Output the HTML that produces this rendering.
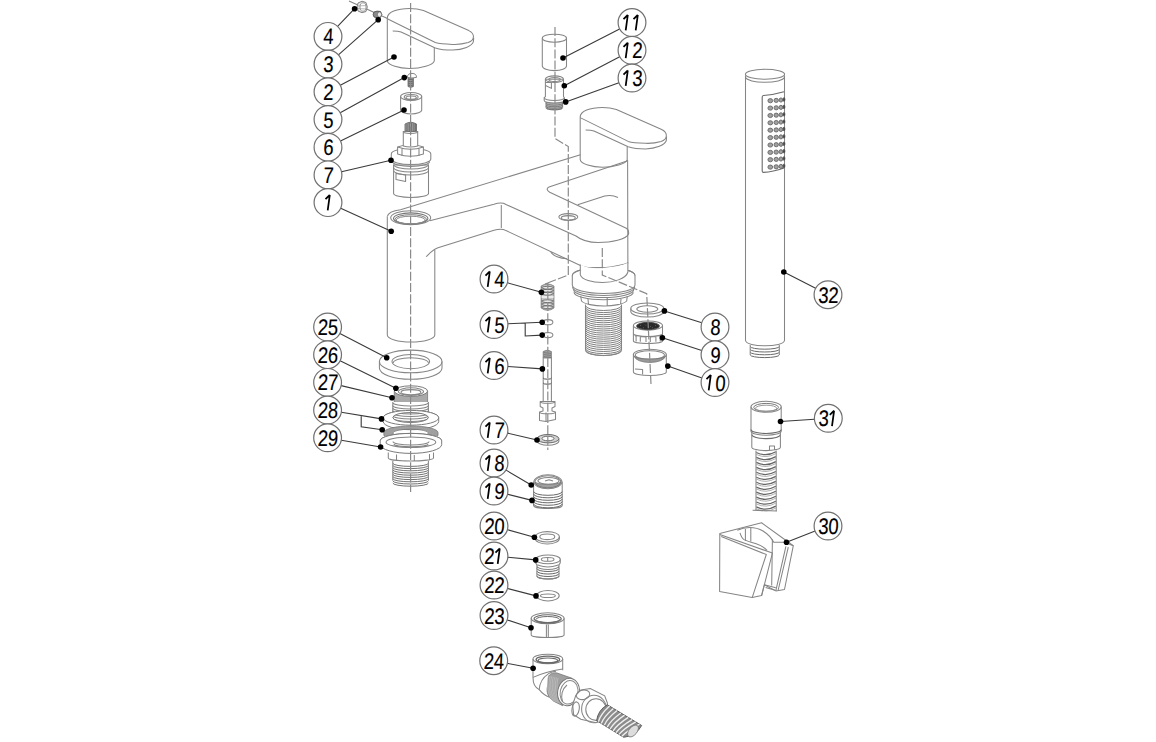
<!DOCTYPE html>
<html><head><meta charset="utf-8"><title>Exploded diagram</title>
<style>
html,body{margin:0;padding:0;background:#fff;overflow:hidden;}
svg{display:block;}
.p{fill:none;stroke:#858585;stroke-width:1.05;stroke-linejoin:round;}
</style></head><body>
<svg width="1156" height="742" viewBox="0 0 1156 742">
<rect width="1156" height="742" fill="#fff"/>
<path class="p" d="M349,1 L387.5,18.5"/><path d="M358,3 L362,1.2 L366,2.5 L367.3,7 L366,11.5 L362,12.7 L358,11 L357,7 Z" fill="#e4e4e4" stroke="#777" stroke-width="0.9"/><ellipse cx="363" cy="7" rx="3" ry="4.2" fill="#fff" stroke="#888" stroke-width="0.8"/><path d="M357.5,6 L366.8,5.5 M357.5,8.5 L366.8,9" stroke="#999" stroke-width="0.7" fill="none"/><path d="M374,12 Q377,10.5 380.5,11.5 L381.9,14.5 L380.5,17.4 Q377,18.3 374,17 L373.1,14.5 Z" fill="#8a8a8a" stroke="#555" stroke-width="0.9"/><ellipse cx="379.5" cy="14.5" rx="2" ry="2.6" fill="#eee" stroke="#666" stroke-width="0.6"/><g transform="translate(-192.9,-98.9)"><path class="p" d="M580.2,117 C580.2,111 590,107.4 602.4,107.4 C608,107.4 612,108 616.4,109.5 L661.7,129.5 C668,132.5 668,139 661,141.5 C656,143 650,143.5 645.5,143.3 C638,143 632,142.5 628.2,141.4 L580.2,117.6"/><path class="p" d="M666.6,136.5 L666.3,140.5 C665,145 656,148.7 645.5,149 C638,149 632,148 628.2,146.8"/><path class="p" d="M585.6,130 C589,130 592,130.3 594,131 L628.2,146.8"/><path class="p" d="M580.2,117 L580.2,159.7 C581,164 592,167.3 602.4,167.3 C614,167.3 626,164 627.2,159.7 L627.2,146.8"/></g><path d="M408,77 L408,86.5 Q410.7,88.2 413.4,86.5 L413.4,77 Z" fill="#9a9a9a" stroke="#666" stroke-width="0.8"/><path d="M408.2,79 L413.2,80 M408.2,81 L413.2,82 M408.2,83 L413.2,84 M408.2,85 L413.2,86" stroke="#555" stroke-width="0.8" fill="none"/><path d="M407.4,77.4 Q407.4,73.4 412,73.4 Q416.5,73.4 416.5,77.4 Q412,78.6 407.4,77.4 Z" fill="#fff" stroke="#777" stroke-width="0.9"/><path class="p" d="M400.6,96.5 L400.6,110 A10.55,4 0 0 0 421.7,110 L421.7,96.5"/><ellipse class="p" cx="411.15" cy="96.5" rx="10.55" ry="4"/><ellipse class="p" cx="411.15" cy="97" rx="7" ry="2.6"/><ellipse class="p" cx="411.15" cy="97.6" rx="5.2" ry="1.7"/><path d="M393.6,165 L393.6,193.5 A17.45,4 0 0 0 428.5,193.5 L428.5,165 Z" fill="#fff" stroke="#858585" stroke-width="1.05"/><path class="p" d="M393.6,164.5 A17.45,4.5 0 0 0 428.5,164.5 M393.6,167.5 A17.45,4.5 0 0 0 428.5,167.5 M393.6,170.5 A17.45,4.5 0 0 0 428.5,170.5"/><path d="M391.3,154 A19.75,5.5 0 0 1 430.8,154 L430.8,159 A19.75,5.5 0 0 1 391.3,159 Z" fill="#fff" stroke="#858585" stroke-width="1.05"/><path class="p" d="M392.5,161.5 A18.5,5 0 0 0 429.6,161.5"/><path d="M397.6,147 L397.6,154 Q410.5,158.5 423.4,154 L423.4,147 Q410.5,142 397.6,147 Z" fill="#fff" stroke="#858585" stroke-width="1.05"/><path class="p" d="M402,148.5 L402,156 M410.5,149.5 L410.5,157 M419,148.5 L419,156 M397.6,147 Q410.5,151.5 423.4,147"/><path d="M403.3,131.5 L403.3,146 Q410.5,148 417.7,146 L417.7,131.5 Z" fill="#fff" stroke="#858585" stroke-width="1.05"/><path class="p" d="M403.3,132.5 Q410.5,134.5 417.7,132.5"/><path d="M405,131 L405,124 Q410.75,120.5 416.5,124 L416.5,131 Q410.75,132.5 405,131 Z" fill="#9a9a9a" stroke="#707070" stroke-width="0.9"/><path stroke="#5a5a5a" stroke-width="0.7" fill="none" d="M407,123.5 L407,131 M409.3,122.5 L409.3,131.5 M411.6,122.5 L411.6,131.5 M413.9,123 L413.9,131.5 M415.6,123.5 L415.6,131"/><path class="p" d="M396,173.4 L405.6,175 L405.6,181.5 L396,179.5 Z"/><path class="p" d="M387.3,216.5 C388,213 394,210.5 400.5,209.7 L580.5,154.8"/><path class="p" d="M387.3,216.5 L387.3,335 A23.75,7 0 0 0 434.8,335 L434.8,250"/><ellipse class="p" cx="410.7" cy="217.8" rx="20" ry="7"/><path d="M393.5,218.5 A17.2,5.6 0 1 1 427.9,218.5 A17.2,5.6 0 1 1 393.5,218.5 Z" fill="none" stroke="#777" stroke-width="1.1"/><ellipse cx="410.7" cy="219.3" rx="15.8" ry="4.6" fill="none" stroke="#7a7a7a" stroke-width="1"/><ellipse cx="410.7" cy="220" rx="14.5" ry="3.8" fill="none" stroke="#8a8a8a" stroke-width="1"/><path class="p" d="M429.8,220.8 L494,204.3 C499,202.6 503,202.7 506,204.5 L576,236 C581,240 588,242.5 598,242.6 C612,242.5 626,239.5 628.6,234 C628.9,231 627.8,229 626.3,228.2 L549.7,192.3 Q545,189 549,187 L627,161"/><path class="p" d="M501.3,205 L501.3,228"/><path class="p" d="M426.1,256.7 C430,253 433,249.5 438,247.8 L494,230.3 C499,228.8 503,228.9 506,230.6 L580.4,265.5 C586,268 594,268.5 600.6,268.2 C612,267 622,266 628.3,262.8"/><path class="p" d="M550.8,252 C553,256 560,258.5 567,258.7"/><path class="p" d="M577.7,204.8 L604.7,196 C610,195 615,196 618,197.4"/><ellipse class="p" cx="568.3" cy="217" rx="9.5" ry="3.4"/><ellipse class="p" cx="568.3" cy="217.8" rx="7" ry="2.2"/><path class="p" d="M580.2,117 C580.2,111 590,107.4 602.4,107.4 C608,107.4 612,108 616.4,109.5 L661.7,129.5 C668,132.5 668,139 661,141.5 C656,143 650,143.5 645.5,143.3 C638,143 632,142.5 628.2,141.4 L580.2,117.6"/><path class="p" d="M666.6,136.5 L666.3,140.5 C665,145 656,148.7 645.5,149 C638,149 632,148 628.2,146.8"/><path class="p" d="M585.6,130 C589,130 592,130.3 594,131 L628.2,146.8"/><path class="p" d="M580.2,117 L580.2,159.7 C581,164 592,167.3 602.4,167.3 C614,167.3 626,164 627.2,159.7 L627.2,146.8"/><path d="M572.3,275.6 L572.3,285 A31.35,8.5 0 0 0 635,285 L635,275.6 A31.35,8.2 0 0 0 572.3,275.6 Z" fill="#fff" stroke="#858585" stroke-width="1.05"/><path d="M572.3,275.6 A31.35,8.2 0 0 1 635,275.6" fill="none" stroke="#858585" stroke-width="1.05"/><path class="p" d="M572.6,287 A31,8.5 0 0 0 634.7,287 M573.5,289.5 A30,8 0 0 0 633.8,289.5 M574,292.2 A29.6,7.5 0 0 0 633.3,292.2"/><path d="M580.3,264.5 L580.3,274.9 C582,280 592,282.5 602.5,282.5 C613,282.5 626,279 627.9,272 L627.9,262.8 C622,266 612,267 600.6,268.2 C594,268.5 586,268 580.3,264.5 Z" fill="#fff" stroke="none"/><path class="p" d="M627.6,160 L627.9,272 C626,279 613,282.5 602.5,282.5 C592,282.5 582,280 580.3,274.9 L580.3,264.5"/><path class="p" d="M580.7,296 L581.5,301 C584,304 594,306 604,306 C614,306 624,304 626.7,301 L627.3,296 M607.2,297.5 L607.2,306 M588,299 L588.5,304.5 M621,299 L620.5,304.5"/><path stroke="#707070" stroke-width="0.9" fill="none" d="M585.5,305.5 A18,5 0 0 0 621.5,305.5 M585.5,307.6 A18,5 0 0 0 621.5,307.6 M585.5,309.6 A18,5 0 0 0 621.5,309.6 M585.5,311.7 A18,5 0 0 0 621.5,311.7 M585.5,313.7 A18,5 0 0 0 621.5,313.7 M585.5,315.8 A18,5 0 0 0 621.5,315.8 M585.5,317.8 A18,5 0 0 0 621.5,317.8 M585.5,319.9 A18,5 0 0 0 621.5,319.9 M585.5,321.9 A18,5 0 0 0 621.5,321.9 M585.5,324.0 A18,5 0 0 0 621.5,324.0 M585.5,326.0 A18,5 0 0 0 621.5,326.0 M585.5,328.1 A18,5 0 0 0 621.5,328.1 M585.5,330.1 A18,5 0 0 0 621.5,330.1 M585.5,332.2 A18,5 0 0 0 621.5,332.2 M585.5,334.2 A18,5 0 0 0 621.5,334.2 M585.5,336.3 A18,5 0 0 0 621.5,336.3 M585.5,338.3 A18,5 0 0 0 621.5,338.3 M585.5,340.4 A18,5 0 0 0 621.5,340.4 M585.5,342.4 A18,5 0 0 0 621.5,342.4 M585.5,344.5 A18,5 0 0 0 621.5,344.5 M585.5,346.5 A18,5 0 0 0 621.5,346.5 M585.5,348.6 A18,5 0 0 0 621.5,348.6 M585.5,350.6 A18,5 0 0 0 621.5,350.6"/><path class="p" d="M585.5,304.5 L585.5,349.5 A18,6 0 0 0 621.5,349.5 L621.5,304.5"/><path class="p" d="M542.3,38.2 L542.3,66 A12.1,4.6 0 0 0 566.5,66 L566.5,38.2"/><ellipse class="p" cx="554.4" cy="38.2" rx="12.1" ry="4"/><path d="M546,102 L546,107.5 A8.3,2.2 0 0 0 562.6,107.5 L562.6,102 Z" fill="#b8b8b8" stroke="#777" stroke-width="0.9"/><path stroke="#6a6a6a" stroke-width="0.8" fill="none" d="M546,103.3 A8.3,1.8 0 0 0 562.6,103.3 M546,104.9 A8.3,1.8 0 0 0 562.6,104.9 M546,106.5 A8.3,1.8 0 0 0 562.6,106.5 M546,108.1 A8.3,1.8 0 0 0 562.6,108.1"/><path d="M545.4,79.2 L545.4,96.5 L544.2,97.8 L544.2,100.5 A10.1,2.6 0 0 0 564.4,100.5 L564.4,97.8 L563.5,96.5 L563.5,79.2 Z" fill="#fff" stroke="#858585" stroke-width="1.05"/><path class="p" d="M544.2,97.8 A10.1,2.6 0 0 0 564.4,97.8"/><ellipse class="p" cx="554.45" cy="79.2" rx="9.05" ry="3.3"/><ellipse class="p" cx="554.6" cy="79.6" rx="5.8" ry="2"/><path class="p" d="M545.6,82.5 L551.4,82.5 L551.4,88.4 L545.6,85.5"/><path class="p" d="M630.8,308.5 L630.8,311.5 A16.5,5.5 0 0 0 663.8,311.5 L663.8,308.5"/><ellipse class="p" cx="647.3" cy="308.5" rx="16.5" ry="5.5"/><ellipse class="p" cx="647.3" cy="309" rx="10.5" ry="3.3"/><path class="p" d="M633.4,326 L633.4,341 A14.55,2.5 0 0 0 662.5,341 L662.5,326"/><ellipse class="p" cx="647.95" cy="325.5" rx="14.55" ry="4.6"/><ellipse cx="648" cy="326" rx="11.5" ry="3.7" fill="#2a2a2a" stroke="#444" stroke-width="0.8"/><path stroke="#777" stroke-width="0.6" fill="none" d="M640,325 L641,326 M645,324.5 L646,325.5 M650,326 L651,327 M655,325 L656,326 M643,327.5 L644,328 M652,327.5 L653,328"/><path class="p" d="M633.4,333.4 A14.55,3 0 0 0 662.5,333.4 M635,336 L636.1,336 L636.1,341.5 M640.3,341.8 L640.3,336.5 L646,337 L646,342 M650.3,342 L650.3,337 L655.9,336.5 L655.9,341.8 M660.2,341.5 L660.2,336 L661.5,336"/><path class="p" d="M633.4,354.6 L633.4,372 A16.45,3.5 0 0 0 666.3,372 L666.3,354.6"/><ellipse class="p" cx="649.85" cy="354.6" rx="16.45" ry="5.4"/><ellipse class="p" cx="649.85" cy="355" rx="14.6" ry="4.3"/><path d="M634.5,356.5 A15.4,2.8 0 0 0 665.2,356.5 A15.4,6.5 0 0 1 634.5,356.5 Z" fill="#999" stroke="#777" stroke-width="0.8"/><path class="p" d="M635,369 L642.6,369.5 L642.6,374.6"/><path d="M541.2,286 Q547.5,282 553.9,286 L553.9,308 Q547.5,312.5 541.2,308 Z" fill="#c4c4c4" stroke="#777" stroke-width="0.9"/><path stroke="#6a6a6a" stroke-width="0.9" fill="#e8e8e8" d="M541.5,287.5 C544,289.7 551,289.7 553.6,287.5 C551,285.9 544,285.9 541.5,287.5 M541.5,290.5 C544,292.7 551,292.7 553.6,290.5 C551,288.9 544,288.9 541.5,290.5 M541.5,293.5 C544,295.7 551,295.7 553.6,293.5 C551,291.9 544,291.9 541.5,293.5 M541.5,301 C544,303.2 551,303.2 553.6,301 C551,299.4 544,299.4 541.5,301 M541.5,304 C544,306.2 551,306.2 553.6,304 C551,302.4 544,302.4 541.5,304 M541.5,307 C544,309.2 551,309.2 553.6,307 C551,305.4 544,305.4 541.5,307"/><path stroke="#f4f4f4" stroke-width="1.6" fill="none" d="M541.5,297 L553.6,297"/><ellipse class="p" cx="548" cy="322.2" rx="4.9" ry="2.6"/><ellipse class="p" cx="548" cy="335.1" rx="4.9" ry="2.6"/><path d="M543.2,358 L543.2,351.5 Q547.3,348.8 551.4,351.5 L551.4,358 Z" fill="#a0a0a0" stroke="#777" stroke-width="0.8"/><path stroke="#666" stroke-width="0.6" fill="none" d="M543.5,352.5 L551,353.5 M543.5,354.5 L551,355.5 M543.5,356.5 L551,357.5"/><path class="p" d="M543.2,357.8 L543.2,401 M551.4,357.8 L551.4,401"/><path stroke="#555" stroke-width="1" fill="none" d="M543.2,378 A4.1,1.2 0 0 0 551.4,378 M543.2,383 A4.1,1.2 0 0 0 551.4,383"/><path class="p" d="M540.2,401.5 L540.2,406.5 L543,408 L543,411 L539.5,412 L539.5,420.5 L546,421.5 L555.5,419.5 L555.5,412 L552,411 L552,408 L555,406.5 L555,401.5 Z M540.2,401.5 A7.4,1.8 0 0 0 555,401.5 M539.5,412 A8,1.8 0 0 0 555.5,412 M546,412.5 L546,421.5"/><path class="p" d="M537.1,438.7 L537.1,441 A10.9,4.2 0 0 0 558.9,441 L558.9,438.7"/><path d="M537.1,438.7 A10.9,4.2 0 0 1 558.9,438.7 A10.9,4.2 0 0 1 537.1,438.7 Z M542,438.5 A6,2.3 0 0 0 554,438.5 A6,2.3 0 0 0 542,438.5 Z" fill="#cfcfcf" fill-rule="evenodd" stroke="#6a6a6a" stroke-width="1"/><path class="p" d="M533.6,481.8 L533.6,505.5 A14.3,3 0 0 0 562.2,505.5 L562.2,481.8"/><path stroke="#6a6a6a" stroke-width="1" fill="none" d="M533.6,491.5 A14.3,3.8 0 0 0 562.2,491.5 M533.6,494 A14.3,3.8 0 0 0 562.2,494 M533.6,496.5 A14.3,3.8 0 0 0 562.2,496.5 M533.6,499 A14.3,3.8 0 0 0 562.2,499 M533.6,501.5 A14.3,3.8 0 0 0 562.2,501.5 M533.6,504 A14.3,3.8 0 0 0 562.2,504"/><ellipse class="p" cx="547.9" cy="481.8" rx="14" ry="7"/><ellipse class="p" cx="547.9" cy="481.8" rx="12.9" ry="6"/><path d="M535,481.8 A12.9,6 0 0 0 560.8,481.8 A12.9,2.6 0 0 1 535,481.8 Z" fill="#a0a0a0" stroke="#777" stroke-width="0.9"/><ellipse class="p" cx="548.5" cy="480.8" rx="10.6" ry="3.4"/><path class="p" d="M545,481 L549,479.8 L553,481"/><path class="p" d="M535.2,536.8 L535.2,538.5 A12.1,5.5 0 0 0 559.4,538.5 L559.4,536.8"/><ellipse class="p" cx="547.3" cy="536.8" rx="12.1" ry="5.2"/><ellipse class="p" cx="547.3" cy="536.8" rx="7.5" ry="2.8"/><path stroke="#666" stroke-width="1" fill="none" d="M536.9,568.5 A11.05,3 0 0 0 559,568.5 M536.9,571 A11.05,3 0 0 0 559,571 M536.9,573.5 A11.05,3 0 0 0 559,573.5 M536.9,576 A11.05,3 0 0 0 559,576"/><path class="p" d="M535.6,559.4 L535.6,562.5 L536.9,565 L536.9,576 A11.05,3 0 0 0 559,576 L559,565 L560.3,562.5 L560.3,559.4 M535.6,562.5 A12.35,4.4 0 0 0 560.3,562.5 M536.9,566 A11.05,3.5 0 0 0 559,566"/><ellipse class="p" cx="547.95" cy="559.4" rx="12.35" ry="4.4"/><ellipse class="p" cx="547.65" cy="559.4" rx="6.35" ry="1.9"/><path class="p" d="M547.7,557.6 L547.7,561.2"/><ellipse class="p" cx="547.9" cy="595.7" rx="11.3" ry="5.2"/><ellipse class="p" cx="547.9" cy="595.7" rx="7.5" ry="1.8"/><path class="p" d="M531.2,618.3 L531.2,635 A16.45,2.6 0 0 0 564.1,635 L564.1,618.3"/><ellipse class="p" cx="547.65" cy="618.3" rx="16.45" ry="5.5"/><ellipse cx="547.65" cy="618.8" rx="13.6" ry="4" fill="none" stroke="#666" stroke-width="1.1"/><ellipse cx="547.65" cy="619.5" rx="11.8" ry="3" fill="none" stroke="#6a6a6a" stroke-width="1"/><path d="M537,621 A10.6,2.6 0 0 0 558.3,621" fill="none" stroke="#777" stroke-width="1"/><path class="p" d="M546.4,624.5 L546.4,637.5 M548.3,624.5 L548.3,637.5"/><path d="M533,659 L533,677.4 C533,684 536,688 539.2,689.6 C542,693 546,696 549.5,697.2 L556,701 L575,683 L562.7,670.3 L562.7,659 Z" fill="#fff" stroke="none"/><ellipse class="p" cx="547.85" cy="659" rx="14.85" ry="4.8"/><ellipse cx="547.85" cy="659.6" rx="11.8" ry="3.4" fill="none" stroke="#666" stroke-width="1.3"/><ellipse cx="547.85" cy="660.4" rx="9.8" ry="2.4" fill="none" stroke="#6a6a6a" stroke-width="1.1"/><path class="p" d="M533,659 L533,677.4 C533,684 536,688 539.2,689.6 C542,693 546,696 549.5,697.2 M562.7,659 L562.7,670.3"/><path class="p" d="M533,677.4 C542,673 552,670.5 562.7,668.9"/><path class="p" d="M539.2,689.6 C539.5,684 542,678 548.6,673.6 C551,672 553,671.5 556,671.2"/><path d="M548.6,676 C551,673 554,672.5 557,673 L572.2,678.3 L562.7,705.7 L553.3,701 C548,697 546,692 547.6,686 Z" fill="#a0a0a0" stroke="#777" stroke-width="0.8"/><path stroke="#c8c8c8" stroke-width="0.6" fill="none" d="M548.5,675.5 C546.0,684.0 548.0,696.0 553.0,701.0 M550.1,675.9 C547.6,684.4 549.6,696.4 554.6,701.6 M551.7,676.3 C549.2,684.8 551.2,696.8 556.2,702.2 M553.3,676.7 C550.8,685.2 552.8,697.2 557.8,702.8 M554.9,677.1 C552.4,685.6 554.4,697.6 559.4,703.4 M556.5,677.5 C554.0,686.0 556.0,698.0 561.0,704.0 M558.1,677.9 C555.6,686.4 557.6,698.4 562.6,704.6"/><ellipse cx="568.5" cy="692" rx="10.8" ry="13.9" transform="rotate(12 568.5 692)" fill="#fff" stroke="#777" stroke-width="1"/><ellipse cx="569" cy="692.3" rx="8.8" ry="11.9" transform="rotate(12 569 692.3)" fill="none" stroke="#888" stroke-width="1"/><path class="p" d="M567,685 C562,689 560.5,696 562.5,701.5"/><path d="M575.8,695.3 L580.8,689.9 L590.3,688.5 L604.7,695.8 L607.4,703 L606.5,716 L596,722.8 L580.8,719.2 L573.6,714.7 L572.7,704.8 Z" fill="#fff" stroke="#858585" stroke-width="1.05"/><ellipse class="p" cx="583" cy="694.8" rx="6.8" ry="4.7" transform="rotate(-12 583 694.8)"/><ellipse class="p" cx="575.6" cy="709" rx="3.6" ry="7.2" transform="rotate(10 575.6 709)"/><ellipse class="p" cx="594" cy="709" rx="12.4" ry="13.8"/><ellipse class="p" cx="596" cy="709.6" rx="10.2" ry="10.8"/><path d="M607.4,704.8 L641.7,725.5 Q636,736 623.7,737.3 L596.6,720.6 Q598,710 607.4,704.8 Z" fill="#8c8c8c" stroke="#555" stroke-width="0.9"/><path stroke="#f0f0f0" stroke-width="1.3" fill="none" d="M609.6,706.1 Q600.5,714.4 598.4,721.7 M613.4,708.4 Q603.8,716.5 601.3,723.5 M617.1,710.6 Q607.2,718.5 604.3,725.3 M620.8,712.9 Q610.5,720.5 607.2,727.1 M624.5,715.1 Q613.8,722.5 610.1,729.0 M628.3,717.4 Q617.2,724.6 613.1,730.8 M632.0,719.6 Q620.5,726.6 616.0,732.6 M635.7,721.9 Q623.9,728.6 619.0,734.4 M639.5,724.1 Q627.2,730.7 621.9,736.2"/><ellipse cx="633" cy="731" rx="4" ry="7" transform="rotate(40 633 731)" fill="#ddd" stroke="#777" stroke-width="0.8"/><path class="p" d="M379.4,361.4 L379.4,367.9 A31.3,11.3 0 0 0 442,367.9 L442,361.4"/><ellipse class="p" cx="410.7" cy="361.4" rx="31.3" ry="11.3"/><ellipse class="p" cx="410.8" cy="361.6" rx="18.8" ry="7.1"/><path class="p" d="M393.2,363 A17.6,5.3 0 0 1 428.4,363"/><path d="M394.3,391.1 L394.3,402.2 A16.65,1.8 0 0 0 427.6,402.2 L427.6,391.1 Z" fill="#aaa" stroke="#777" stroke-width="0.8"/><ellipse cx="410.95" cy="391.1" rx="16.65" ry="5.3" fill="#fff" stroke="#7a7a7a" stroke-width="1"/><ellipse class="p" cx="410.95" cy="391.6" rx="12.6" ry="3.8"/><ellipse class="p" cx="410.95" cy="392.2" rx="10" ry="2.6"/><path d="M383.2,417.8 L383.2,421.5 A27.75,8.2 0 0 0 438.7,421.5 L438.7,417.8 A27.75,7.4 0 0 0 383.2,417.8 Z" fill="#fff" stroke="#7a7a7a" stroke-width="1"/><path d="M392.8,402 L392.8,421 A17.8,3.5 0 0 0 428.4,421 L428.4,402 Z" fill="#fff" stroke="none"/><path class="p" d="M392.8,405.5 A17.8,3.5 0 0 0 428.4,405.5 M392.8,408 A17.8,3.5 0 0 0 428.4,408 M392.8,410.5 A17.8,3.5 0 0 0 428.4,410.5 M392.8,413 A17.8,3.5 0 0 0 428.4,413 M392.8,415.5 A17.8,3.5 0 0 0 428.4,415.5 M392.8,418 A17.8,3.5 0 0 0 428.4,418 M392.8,420.5 A17.8,3.5 0 0 0 428.4,420.5"/><path class="p" d="M392.8,402 L392.8,421 M428.4,402 L428.4,421 M392.8,402.5 A17.8,3.5 0 0 0 428.4,402.5"/><path d="M383.2,417.8 A27.75,7.4 0 0 1 438.7,417.8 A27.75,7.4 0 0 1 383.2,417.8 Z M392.8,417.5 A17.8,5 0 0 0 428.4,417.5 A17.8,5 0 0 0 392.8,417.5 Z" fill="#fff" fill-rule="evenodd" stroke="#7a7a7a" stroke-width="1"/><path d="M383.9,432.5 A27,6.5 0 0 1 438,432.5 L438,435 A27,6.5 0 0 1 383.9,435 Z M392.8,433 A17.8,3.8 0 0 0 428.4,433 A17.8,3.8 0 0 0 392.8,433 Z" fill="#a0a0a0" fill-rule="evenodd" stroke="#777" stroke-width="0.8"/><path d="M380.2,440.8 L380.2,444.5 A30.75,8.9 0 0 0 441.7,444.5 L441.7,440.8 A30.75,7.4 0 0 0 380.2,440.8 Z" fill="#fff" stroke="#7a7a7a" stroke-width="1"/><path d="M380.2,440.8 A30.75,7.4 0 0 1 441.7,440.8" fill="#fff" stroke="#7a7a7a" stroke-width="1"/><ellipse class="p" cx="410.9" cy="442.2" rx="24.9" ry="5.2"/><path class="p" d="M393,441.5 A18,3.5 0 0 0 429,441.5 M394,444 A17,2.8 0 0 0 428,444"/><path class="p" d="M388.3,452.5 L388.3,458 A22.6,3 0 0 0 433.5,458 L433.5,452.5 M396.5,454.5 L396.5,461 M414.3,455 L414.3,461.5 M429.5,454 L429.5,460.5"/><path stroke="#6a6a6a" stroke-width="0.95" fill="none" d="M392.8,463.2 A17.8,3.2 0 0 0 428.4,463.2 M392.8,465.4 A17.8,3.2 0 0 0 428.4,465.4 M392.8,467.6 A17.8,3.2 0 0 0 428.4,467.6 M392.8,469.8 A17.8,3.2 0 0 0 428.4,469.8 M392.8,472.0 A17.8,3.2 0 0 0 428.4,472.0 M392.8,474.2 A17.8,3.2 0 0 0 428.4,474.2 M392.8,476.4 A17.8,3.2 0 0 0 428.4,476.4 M392.8,478.6 A17.8,3.2 0 0 0 428.4,478.6 M392.8,480.8 A17.8,3.2 0 0 0 428.4,480.8 M392.8,483.0 A17.8,3.2 0 0 0 428.4,483.0"/><path class="p" d="M392.8,460.8 L392.8,480.5 M428.4,460.8 L428.4,480.5"/><path class="p" d="M745.5,75.4 L745.5,340.5 C746,343.8 755,345.8 765,345.8 C775,345.8 784,343.8 784.5,340.5 L784.5,75.4"/><ellipse class="p" cx="765" cy="74.3" rx="19.6" ry="5"/><path class="p" d="M745.5,77.3 A19.6,5.6 0 0 0 784.5,77.3"/><path d="M784,91.8 Q773,95 763.5,95.5 Q762.2,95.7 762.2,97 L762.2,171 Q762.2,172.4 763.5,172.4 Q773,172 784,168" fill="none" stroke="#6a6a6a" stroke-width="1.1"/><g fill="#a0a0a0" stroke="#5a5a5a" stroke-width="0.8"><ellipse cx="770.3" cy="100.7" rx="2.4" ry="2.1"/><ellipse cx="776.2" cy="100.4" rx="2.2" ry="2.1"/><ellipse cx="780.9" cy="100.0" rx="1.8" ry="2.1"/><ellipse cx="784" cy="99.5" rx="0.9" ry="1.9" fill="#333"/><ellipse cx="770.3" cy="108.1" rx="2.4" ry="2.1"/><ellipse cx="776.2" cy="107.8" rx="2.2" ry="2.1"/><ellipse cx="780.9" cy="107.4" rx="1.8" ry="2.1"/><ellipse cx="784" cy="106.9" rx="0.9" ry="1.9" fill="#333"/><ellipse cx="770.3" cy="115.5" rx="2.4" ry="2.1"/><ellipse cx="776.2" cy="115.2" rx="2.2" ry="2.1"/><ellipse cx="780.9" cy="114.8" rx="1.8" ry="2.1"/><ellipse cx="784" cy="114.3" rx="0.9" ry="1.9" fill="#333"/><ellipse cx="770.3" cy="122.8" rx="2.4" ry="2.1"/><ellipse cx="776.2" cy="122.5" rx="2.2" ry="2.1"/><ellipse cx="780.9" cy="122.1" rx="1.8" ry="2.1"/><ellipse cx="784" cy="121.6" rx="0.9" ry="1.9" fill="#333"/><ellipse cx="770.3" cy="130.2" rx="2.4" ry="2.1"/><ellipse cx="776.2" cy="129.9" rx="2.2" ry="2.1"/><ellipse cx="780.9" cy="129.5" rx="1.8" ry="2.1"/><ellipse cx="784" cy="129.0" rx="0.9" ry="1.9" fill="#333"/><ellipse cx="770.3" cy="137.6" rx="2.4" ry="2.1"/><ellipse cx="776.2" cy="137.3" rx="2.2" ry="2.1"/><ellipse cx="780.9" cy="136.9" rx="1.8" ry="2.1"/><ellipse cx="784" cy="136.4" rx="0.9" ry="1.9" fill="#333"/><ellipse cx="770.3" cy="145.0" rx="2.4" ry="2.1"/><ellipse cx="776.2" cy="144.7" rx="2.2" ry="2.1"/><ellipse cx="780.9" cy="144.3" rx="1.8" ry="2.1"/><ellipse cx="784" cy="143.8" rx="0.9" ry="1.9" fill="#333"/><ellipse cx="770.3" cy="152.4" rx="2.4" ry="2.1"/><ellipse cx="776.2" cy="152.1" rx="2.2" ry="2.1"/><ellipse cx="780.9" cy="151.7" rx="1.8" ry="2.1"/><ellipse cx="784" cy="151.2" rx="0.9" ry="1.9" fill="#333"/><ellipse cx="770.3" cy="159.7" rx="2.4" ry="2.1"/><ellipse cx="776.2" cy="159.4" rx="2.2" ry="2.1"/><ellipse cx="780.9" cy="159.0" rx="1.8" ry="2.1"/><ellipse cx="784" cy="158.5" rx="0.9" ry="1.9" fill="#333"/><ellipse cx="770.3" cy="167.1" rx="2.4" ry="2.1"/><ellipse cx="776.2" cy="166.8" rx="2.2" ry="2.1"/><ellipse cx="780.9" cy="166.4" rx="1.8" ry="2.1"/><ellipse cx="784" cy="165.9" rx="0.9" ry="1.9" fill="#333"/></g><path stroke="#6a6a6a" stroke-width="1" fill="none" d="M750.2,346.5 A14.55,2.7 0 0 0 779.3,346.5 M750.2,349.3 A14.55,2.7 0 0 0 779.3,349.3 M750.2,352.1 A14.55,2.7 0 0 0 779.3,352.1 M750.2,354.9 A14.55,2.7 0 0 0 779.3,354.9"/><path class="p" d="M750.2,345 L750.2,355 M779.3,345 L779.3,355"/><path class="p" d="M751,406.8 L751,431.2 A15.1,4 0 0 0 781.2,431.2 L781.2,406.8"/><ellipse class="p" cx="766.1" cy="406.8" rx="15.1" ry="5.5"/><ellipse cx="766.1" cy="407.4" rx="12.4" ry="4" fill="none" stroke="#7a7a7a" stroke-width="1"/><ellipse cx="766.1" cy="408.2" rx="10.6" ry="3" fill="none" stroke="#999" stroke-width="1"/><path d="M751,429.5 A15.1,4 0 0 0 781.2,429.5 M751.8,434.6 A14.3,4 0 0 0 780.4,434.6" fill="none" stroke="#6a6a6a" stroke-width="1.1"/><path class="p" d="M751.8,431.5 L751.8,447.2 A14.3,3.4 0 0 0 780.4,447.2 L780.4,431.5 M769.5,450 L769.5,446 L774.5,446 L774.5,450"/><path stroke="#666" stroke-width="1.25" fill="none" d="M756.3,452.5 Q766,457.3 775.9,451.7 M756.3,457.4 Q766,462.2 775.9,456.6 M756.3,462.4 Q766,467.2 775.9,461.6 M756.3,467.4 Q766,472.2 775.9,466.6 M756.3,472.3 Q766,477.1 775.9,471.5 M756.3,477.2 Q766,482.1 775.9,476.4 M756.3,482.2 Q766,487.0 775.9,481.4 M756.3,487.1 Q766,491.9 775.9,486.3 M756.3,492.1 Q766,496.9 775.9,491.3 M756.3,497.1 Q766,501.9 775.9,496.2 M756.3,502.0 Q766,506.8 775.9,501.2 M756.3,506.9 Q766,511.8 775.9,506.1"/><path stroke="#a8a8a8" stroke-width="0.9" fill="none" d="M756.5,454.5 Q766,459.1 775.7,453.7 M756.5,459.4 Q766,464.1 775.7,458.6 M756.5,464.4 Q766,469.0 775.7,463.6 M756.5,469.4 Q766,474.0 775.7,468.6 M756.5,474.3 Q766,478.9 775.7,473.5 M756.5,479.2 Q766,483.9 775.7,478.4 M756.5,484.2 Q766,488.8 775.7,483.4 M756.5,489.1 Q766,493.8 775.7,488.3 M756.5,494.1 Q766,498.7 775.7,493.3 M756.5,499.1 Q766,503.7 775.7,498.2 M756.5,504.0 Q766,508.6 775.7,503.2 M756.5,508.9 Q766,513.5 775.7,508.1"/><path class="p" d="M756,450.5 L756,511 M776.2,450.5 L776.2,511 M752.6,510.3 L777,511"/><path class="p" d="M719.8,533.6 L761.6,522.8 L793.3,545.7 L784.5,589.5 L775.8,590.9 L764.3,584.8 L761.6,595.6 L752.2,597.6 L719.6,591.5 Z"/><path class="p" d="M719.8,534.5 L772.4,553.1 L761.6,595.6 M721.2,536.5 L766.3,554.5 L752.2,597.6"/><path class="p" d="M737.3,530.2 C742,528 746,527.5 749.5,527.5 C755,527.5 759,528.5 763,531 C767,533.5 771,537 773.7,542.3 L784.5,542.3 L793.3,545.7"/><path class="p" d="M740,532.9 C741,536 742,538.5 744,539.6 C748,541.5 752,542.5 756.2,543.7 C760,545 764,547 767,550.4"/><path class="p" d="M745.4,528.9 L745.4,541 M750.8,528 L750.8,541.5"/><path class="p" d="M785.9,546.4 L775.8,590.9 M788.3,547.2 L778.2,590 M772.4,539.6 L771.7,585.5"/><path class="p" d="M764.3,584.8 L775.8,587.8 M765.6,587.5 L775.1,590.3"/>
<path d="M410.6,3 L410.6,492 M555,27 L555,138.5 L568.3,146.5 L568.3,275 L545,284 L547.8,283 L547.8,450 M602.3,248 L602.3,275 L646.7,293.7 L651,384" fill="none" stroke="#8a8a8a" stroke-width="1.2" stroke-dasharray="9 2.2"/>
<path d="M337.6,26.4 L354.6,8.7 M338.4,54.9 L378.2,19.7 M340.3,85.3 L394.0,57.0 M340.2,112.8 L404.3,77.6 M340.5,141.1 L404.0,110.0 M341.5,171.7 L391.0,160.2 M340.7,208.3 L391.2,231.2 M339.9,333.4 L386.7,357.8 M340.1,360.8 L395.9,388.2 M341.1,385.6 L392.0,397.8 M341.3,412.3 L381.5,418.9 M341.3,440.2 L380.6,447.0 M619.6,28.9 L563.0,58.0 M619.7,56.7 L564.3,85.7 M618.9,82.7 L565.7,101.9 M507.4,282.8 L541.4,292.3 M507.9,323.8 L542.2,322.2 M507.9,366.5 L542.4,368.9 M507.5,433.1 L537.0,440.0 M506.0,470.1 L531.2,485.0 M507.5,494.3 L532.0,500.4 M507.4,529.7 L534.4,537.2 M507.8,557.3 L535.7,559.9 M507.5,588.5 L536.0,595.9 M507.2,619.9 L531.0,627.7 M507.3,663.3 L533.1,668.3 M701.8,322.8 L664.4,310.9 M701.8,350.5 L662.4,337.8 M701.9,377.9 L667.8,366.1 M815.6,288.3 L783.8,272.0 M814.4,419.2 L780.5,421.5 M815.1,531.1 L786.5,542.3 M525.2,323.4 L525.2,336 L542.2,335.1 M361.2,416 L361.2,426.8 L382.2,429.8" fill="none" stroke="#3a3a3a" stroke-width="1.1"/>
<g fill="#000"><circle cx="354.6" cy="8.7" r="2.8"/><circle cx="378.2" cy="19.7" r="2.8"/><circle cx="394" cy="57" r="2.8"/><circle cx="404.3" cy="77.6" r="2.8"/><circle cx="404" cy="110" r="2.8"/><circle cx="391" cy="160.2" r="2.8"/><circle cx="391.2" cy="231.2" r="2.8"/><circle cx="386.7" cy="357.8" r="2.8"/><circle cx="395.9" cy="388.2" r="2.8"/><circle cx="392" cy="397.8" r="2.8"/><circle cx="381.5" cy="418.9" r="2.8"/><circle cx="380.6" cy="447" r="2.8"/><circle cx="563" cy="58" r="2.8"/><circle cx="564.3" cy="85.7" r="2.8"/><circle cx="565.7" cy="101.9" r="2.8"/><circle cx="541.4" cy="292.3" r="2.8"/><circle cx="542.2" cy="322.2" r="2.8"/><circle cx="542.4" cy="368.9" r="2.8"/><circle cx="537" cy="440" r="2.8"/><circle cx="531.2" cy="485" r="2.8"/><circle cx="532" cy="500.4" r="2.8"/><circle cx="534.4" cy="537.2" r="2.8"/><circle cx="535.7" cy="559.9" r="2.8"/><circle cx="536" cy="595.9" r="2.8"/><circle cx="531" cy="627.7" r="2.8"/><circle cx="533.1" cy="668.3" r="2.8"/><circle cx="664.4" cy="310.9" r="2.8"/><circle cx="662.4" cy="337.8" r="2.8"/><circle cx="667.8" cy="366.1" r="2.8"/><circle cx="783.8" cy="272" r="2.8"/><circle cx="780.5" cy="421.5" r="2.8"/><circle cx="786.5" cy="542.3" r="2.8"/><circle cx="542.2" cy="335.1" r="2.8"/><circle cx="382.2" cy="429.8" r="2.8"/></g>
<g fill="#fff" stroke="#707070" stroke-width="1.2"><circle cx="328" cy="36.4" r="13.9"/><circle cx="328" cy="64.1" r="13.9"/><circle cx="328" cy="91.8" r="13.9"/><circle cx="328" cy="119.5" r="13.9"/><circle cx="328" cy="147.2" r="13.9"/><circle cx="328" cy="174.9" r="13.9"/><circle cx="328" cy="202.6" r="13.9"/><circle cx="327.6" cy="327" r="13.9"/><circle cx="327.6" cy="354.7" r="13.9"/><circle cx="327.6" cy="382.4" r="13.9"/><circle cx="327.6" cy="410.1" r="13.9"/><circle cx="327.6" cy="437.8" r="13.9"/><circle cx="632" cy="22.6" r="13.9"/><circle cx="632" cy="50.3" r="13.9"/><circle cx="632" cy="78" r="13.9"/><circle cx="494" cy="279" r="13.9"/><circle cx="494" cy="324.5" r="13.9"/><circle cx="494" cy="365.5" r="13.9"/><circle cx="494" cy="430" r="13.9"/><circle cx="494" cy="463" r="13.9"/><circle cx="494" cy="491" r="13.9"/><circle cx="494" cy="526" r="13.9"/><circle cx="494" cy="556" r="13.9"/><circle cx="494" cy="585" r="13.9"/><circle cx="494" cy="615.5" r="13.9"/><circle cx="493.7" cy="660.7" r="13.9"/><circle cx="715" cy="327" r="13.9"/><circle cx="715" cy="354.8" r="13.9"/><circle cx="715" cy="382.5" r="13.9"/><circle cx="828" cy="294.7" r="13.9"/><circle cx="828.3" cy="418.3" r="13.9"/><circle cx="828" cy="526" r="13.9"/></g>
<g font-family="Liberation Sans, sans-serif" font-size="22.5" fill="#000" stroke="#000" stroke-width="0.15"><text transform="translate(328.0,44.4) skewX(-3) scale(0.82,1)" text-anchor="middle">4</text><text transform="translate(328.0,72.1) skewX(-3) scale(0.82,1)" text-anchor="middle">3</text><text transform="translate(328.0,99.8) skewX(-3) scale(0.82,1)" text-anchor="middle">2</text><text transform="translate(328.0,127.5) skewX(-3) scale(0.82,1)" text-anchor="middle">5</text><text transform="translate(328.0,155.2) skewX(-3) scale(0.82,1)" text-anchor="middle">6</text><text transform="translate(328.0,182.9) skewX(-3) scale(0.82,1)" text-anchor="middle">7</text><text transform="translate(322.6,335.0) skewX(-3) scale(0.82,1)" text-anchor="middle">2</text><text transform="translate(332.6,335.0) skewX(-3) scale(0.82,1)" text-anchor="middle">5</text><text transform="translate(322.6,362.7) skewX(-3) scale(0.82,1)" text-anchor="middle">2</text><text transform="translate(332.6,362.7) skewX(-3) scale(0.82,1)" text-anchor="middle">6</text><text transform="translate(322.6,390.4) skewX(-3) scale(0.82,1)" text-anchor="middle">2</text><text transform="translate(332.6,390.4) skewX(-3) scale(0.82,1)" text-anchor="middle">7</text><text transform="translate(322.6,418.1) skewX(-3) scale(0.82,1)" text-anchor="middle">2</text><text transform="translate(332.6,418.1) skewX(-3) scale(0.82,1)" text-anchor="middle">8</text><text transform="translate(322.6,445.8) skewX(-3) scale(0.82,1)" text-anchor="middle">2</text><text transform="translate(332.6,445.8) skewX(-3) scale(0.82,1)" text-anchor="middle">9</text><text transform="translate(637.0,58.3) skewX(-3) scale(0.82,1)" text-anchor="middle">2</text><text transform="translate(637.0,86.0) skewX(-3) scale(0.82,1)" text-anchor="middle">3</text><text transform="translate(499.0,287.0) skewX(-3) scale(0.82,1)" text-anchor="middle">4</text><text transform="translate(499.0,332.5) skewX(-3) scale(0.82,1)" text-anchor="middle">5</text><text transform="translate(499.0,373.5) skewX(-3) scale(0.82,1)" text-anchor="middle">6</text><text transform="translate(499.0,438.0) skewX(-3) scale(0.82,1)" text-anchor="middle">7</text><text transform="translate(499.0,471.0) skewX(-3) scale(0.82,1)" text-anchor="middle">8</text><text transform="translate(499.0,499.0) skewX(-3) scale(0.82,1)" text-anchor="middle">9</text><text transform="translate(489.0,534.0) skewX(-3) scale(0.82,1)" text-anchor="middle">2</text><text transform="translate(499.0,534.0) skewX(-3) scale(0.82,1)" text-anchor="middle">0</text><text transform="translate(489.0,564.0) skewX(-3) scale(0.82,1)" text-anchor="middle">2</text><text transform="translate(489.0,593.0) skewX(-3) scale(0.82,1)" text-anchor="middle">2</text><text transform="translate(499.0,593.0) skewX(-3) scale(0.82,1)" text-anchor="middle">2</text><text transform="translate(489.0,623.5) skewX(-3) scale(0.82,1)" text-anchor="middle">2</text><text transform="translate(499.0,623.5) skewX(-3) scale(0.82,1)" text-anchor="middle">3</text><text transform="translate(488.7,668.7) skewX(-3) scale(0.82,1)" text-anchor="middle">2</text><text transform="translate(498.7,668.7) skewX(-3) scale(0.82,1)" text-anchor="middle">4</text><text transform="translate(715.0,335.0) skewX(-3) scale(0.82,1)" text-anchor="middle">8</text><text transform="translate(715.0,362.8) skewX(-3) scale(0.82,1)" text-anchor="middle">9</text><text transform="translate(720.0,390.5) skewX(-3) scale(0.82,1)" text-anchor="middle">0</text><text transform="translate(823.0,302.7) skewX(-3) scale(0.82,1)" text-anchor="middle">3</text><text transform="translate(833.0,302.7) skewX(-3) scale(0.82,1)" text-anchor="middle">2</text><text transform="translate(823.3,426.3) skewX(-3) scale(0.82,1)" text-anchor="middle">3</text><text transform="translate(823.0,534.0) skewX(-3) scale(0.82,1)" text-anchor="middle">3</text><text transform="translate(833.0,534.0) skewX(-3) scale(0.82,1)" text-anchor="middle">0</text></g>
<path d="M329.8,195.0 L327.7,210.4 M329.8,195.0 L325.5,199.2 M627.8,15.0 L625.7,30.4 M627.8,15.0 L623.5,19.2 M637.8,15.0 L635.7,30.4 M637.8,15.0 L633.5,19.2 M627.8,42.7 L625.7,58.1 M627.8,42.7 L623.5,46.9 M627.8,70.4 L625.7,85.8 M627.8,70.4 L623.5,74.6 M489.8,271.4 L487.7,286.8 M489.8,271.4 L485.5,275.6 M489.8,316.9 L487.7,332.3 M489.8,316.9 L485.5,321.1 M489.8,357.9 L487.7,373.3 M489.8,357.9 L485.5,362.1 M489.8,422.4 L487.7,437.8 M489.8,422.4 L485.5,426.6 M489.8,455.4 L487.7,470.8 M489.8,455.4 L485.5,459.6 M489.8,483.4 L487.7,498.8 M489.8,483.4 L485.5,487.6 M499.8,548.4 L497.7,563.8 M499.8,548.4 L495.5,552.6 M710.8,374.9 L708.7,390.3 M710.8,374.9 L706.5,379.1 M834.1,410.7 L832.0,426.1 M834.1,410.7 L829.8,414.9" fill="none" stroke="#000" stroke-width="1.75"/>
</svg>
</body></html>
